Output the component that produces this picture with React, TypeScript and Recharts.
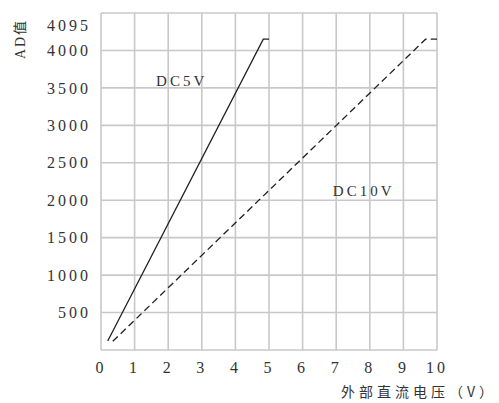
import React from "react";
import {
  LineChart,
  Line,
  XAxis,
  YAxis,
  CartesianGrid,
  ReferenceDot,
} from "recharts";

// voltage (V) -> AD value
const dc5Volts = [0.2, 4.83, 5.0];
const dc5Ad = [120, 4150, 4150];
const dc10Volts = [0.35, 9.66, 10.0];
const dc10Ad = [116, 4150, 4150];

const xTicks = [0, 1, 2, 3, 4, 5, 6, 7, 8, 9, 10];
const yGrid = [0, 500, 1000, 1500, 2000, 2500, 3000, 3500, 4000, 4500];
const yTicks = [500, 1000, 1500, 2000, 2500, 3000, 3500, 4000, 4330];
const yTickLabels = ["500", "1000", "1500", "2000", "2500", "3000", "3500", "4000", "4095"];

const seriesLabels = [
  { name: "DC5V", v: 1.64, ad: 3596 },
  { name: "DC10V", v: 6.9, ad: 2125 },
];

const INK = "#231f20";
const GRID = "#c8c8c8";
const SERIF = "'Liberation Serif', 'DejaVu Serif', serif";
const CJK = "'Noto Sans CJK SC', sans-serif";

const dc5 = dc5Volts.map((v, i) => ({ v, ad: dc5Ad[i] }));
const dc10 = dc10Volts.map((v, i) => ({ v, ad: dc10Ad[i] }));

const tickStyle = { fontSize: 16, fill: "#333", fontFamily: SERIF, letterSpacing: 3 };

export default function App() {
  return (
    <div style={{ width: 499, height: 403 }}>
      <style>{`body{margin:0}`}</style>
      <LineChart
        width={499}
        height={403}
        margin={{ top: 13, right: 62, bottom: 0, left: 0 }}
      >
        <CartesianGrid
          stroke={GRID}
          strokeWidth={1.6}
          horizontalValues={yGrid}
          verticalValues={xTicks}
        />
        <XAxis
          type="number"
          dataKey="v"
          domain={[0, 10]}
          ticks={xTicks}
          height={53}
          axisLine={false}
          tickLine={false}
          tickMargin={6}
          tick={tickStyle}
          label={{
            content: (p: any) => (
              <text
                x={p.viewBox.x + p.viewBox.width - 96}
                y={p.viewBox.y + 47}
                fontSize={14}
                fontFamily={CJK}
                letterSpacing={4}
                fill="#333"
              >
                外部直流电压（V）
              </text>
            ),
          }}
        />
        <YAxis
          type="number"
          dataKey="ad"
          domain={[0, 4500]}
          ticks={yTicks}
          width={101}
          axisLine={false}
          tickLine={false}
          tickMargin={4}
          tickFormatter={(val: number) => yTickLabels[yTicks.indexOf(val)] ?? ""}
          tick={tickStyle}
          label={{
            content: () => (
              <text
                x={0}
                y={0}
                transform="translate(25, 39) rotate(-90)"
                textAnchor="middle"
                fontSize={14}
                fontFamily={SERIF}
                letterSpacing={2}
                fill="#333"
              >
                <tspan>AD</tspan>
                <tspan fontFamily={CJK}>值</tspan>
              </text>
            ),
          }}
        />
        <Line
          data={dc5}
          dataKey="ad"
          stroke={INK}
          strokeWidth={1.3}
          dot={false}
          isAnimationActive={false}
        />
        <Line
          data={dc10}
          dataKey="ad"
          stroke={INK}
          strokeWidth={1.3}
          strokeDasharray="7 4"
          dot={false}
          isAnimationActive={false}
        />
        {seriesLabels.map((s) => (
          <ReferenceDot
            key={s.name}
            x={s.v}
            y={s.ad}
            r={0}
            stroke="none"
            label={{
              content: (p: any) => (
                <text
                  x={p.viewBox.x}
                  y={p.viewBox.y + 5}
                  fontSize={15}
                  fontFamily={SERIF}
                  letterSpacing={3}
                  fill="#333"
                >
                  {s.name}
                </text>
              ),
            }}
          />
        ))}
      </LineChart>
    </div>
  );
}
